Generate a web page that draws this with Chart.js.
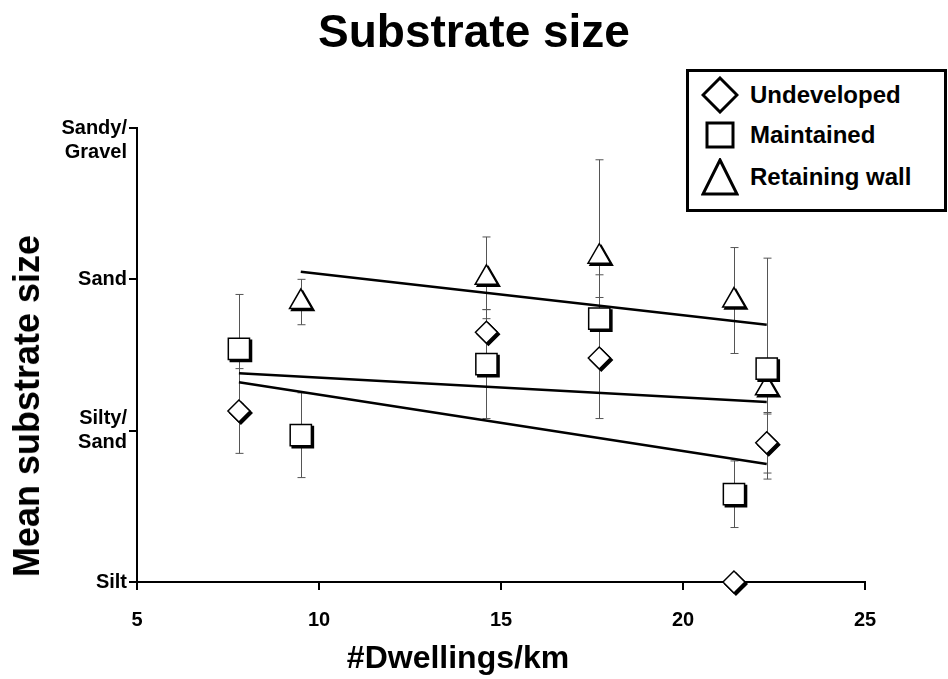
<!DOCTYPE html>
<html>
<head>
<meta charset="utf-8">
<script src="https://cdn.jsdelivr.net/npm/chart.js@4"></script>
<style>
    body { margin: 0; background: #fff; }
    #wrap { position: relative; width: 948px; height: 679px; font-family: Arial, 'Liberation Sans', sans-serif; color: #000; }
    #chart { position: absolute; left: 0; top: 0; }
    #title { position: absolute; left: 474px; top: 31px; transform: translate(-50%, -50%); font-weight: bold; font-size: 46px; white-space: nowrap; }
    #ytitle { position: absolute; left: 27px; top: 406px; transform: translate(-50%, -50%) rotate(-90deg); font-weight: bold; font-size: 36px; white-space: nowrap; }
    #xtitle { position: absolute; left: 458px; top: 657px; transform: translate(-50%, -50%); font-weight: bold; font-size: 32px; white-space: nowrap; }
    #legend { position: absolute; left: 686px; top: 69px; width: 261px; height: 143px; border: 3px solid #000; background: #fff; box-sizing: border-box; }
    .item { position: absolute; left: 0; height: 40px; display: flex; align-items: center; font-weight: bold; font-size: 24px; }
    .item svg { margin-left: 12px; margin-right: 11px; }
</style>
</head>
<body>
<div id="wrap">
    <canvas id="chart" width="948" height="679"></canvas>
    <div id="title">Substrate size</div>
    <div id="ytitle">Mean substrate size</div>
    <div id="xtitle">#Dwellings/km</div>
    <div id="legend"></div>
</div>
<script>
// x = dwellings per km, y = substrate class (0 = Silt ... 3 = Sandy/Gravel)
var yTickLabels = ['Silt', ['Silty/', 'Sand'], 'Sand', ['', 'Sandy/', 'Gravel']];

var undevX = [7.8, 14.6, 17.7, 21.4, 22.3];
var undevY = [1.13, 1.65, 1.48, 0, 0.92];
var undevErr = [0.28, 0.15, 0.40, 0, 0.20];

var maintX = [7.8, 9.5, 14.6, 17.7, 21.4, 22.3];
var maintY = [1.54, 0.97, 1.44, 1.74, 0.58, 1.41];
var maintErr = [0.36, 0.28, 0.36, 0.29, 0.22, 0.73];

var wallX = [9.5, 14.6, 17.7, 21.4, 22.3];
var wallY = [1.85, 2.01, 2.15, 1.86, 1.28];
var wallErr = [0.15, 0.27, 0.64, 0.35, 0.17];

// regression lines (end points)
var undevFitX = [7.8, 22.3];
var undevFitY = [1.32, 0.78];
var maintFitX = [7.8, 22.3];
var maintFitY = [1.38, 1.19];
var wallFitX = [9.5, 22.3];
var wallFitY = [2.05, 1.70];

var seriesNames = ['Undeveloped', 'Maintained', 'Retaining wall'];

function toPoints(xs, ys) {
    return xs.map(function (x, i) { return { x: x, y: ys[i] }; });
}

function markerSet(label, xs, ys, errs, style, radius) {
    return {
        label: label,
        data: toPoints(xs, ys),
        errors: errs,
        shadow: true,
        pointStyle: style,
        pointRadius: radius,
        pointBackgroundColor: '#fff',
        pointBorderColor: '#000',
        pointBorderWidth: 1.5,
        showLine: false,
        clip: false
    };
}

function fitSet(xs, ys) {
    return {
        data: toPoints(xs, ys),
        showLine: true,
        borderColor: '#000',
        borderWidth: 2.5,
        pointRadius: 0,
        clip: false
    };
}

// draws vertical error bars behind the markers
var errorBarPlugin = {
    id: 'errorBars',
    beforeDatasetsDraw: function (chart) {
        var ctx = chart.ctx;
        var xs = chart.scales.x, ys = chart.scales.y;
        ctx.save();
        ctx.strokeStyle = '#555';
        ctx.lineWidth = 1;
        chart.data.datasets.forEach(function (ds) {
            if (!ds.errors) return;
            ds.data.forEach(function (p, i) {
                var e = ds.errors[i];
                if (!e) return;
                var px = Math.round(xs.getPixelForValue(p.x)) + 0.5;
                var top = ys.getPixelForValue(p.y + e);
                var bot = ys.getPixelForValue(p.y - e);
                ctx.beginPath();
                ctx.moveTo(px, top);
                ctx.lineTo(px, bot);
                ctx.moveTo(px - 4, top);
                ctx.lineTo(px + 4, top);
                ctx.moveTo(px - 4, bot);
                ctx.lineTo(px + 4, bot);
                ctx.stroke();
            });
        });
        ctx.restore();
    }
};

// dark offset copy of each marker, drawn just before the marker itself
var shadowPlugin = {
    id: 'markerShadow',
    beforeDatasetDraw: function (chart, args) {
        var ds = chart.data.datasets[args.index];
        if (!ds.shadow || !Chart.helpers || !Chart.helpers.drawPoint) return;
        var ctx = chart.ctx;
        ctx.save();
        ctx.fillStyle = '#000';
        ctx.strokeStyle = '#000';
        ctx.lineWidth = 1.5;
        args.meta.data.forEach(function (el) {
            Chart.helpers.drawPoint(ctx, {
                pointStyle: ds.pointStyle,
                radius: ds.pointRadius,
                rotation: 0,
                borderWidth: 1.5
            }, el.x + 2, el.y + 2);
        });
        ctx.restore();
    }
};

var tickFont = { family: "Arial, 'Liberation Sans', sans-serif", size: 20, weight: 'bold' };

new Chart(document.getElementById('chart').getContext('2d'), {
    type: 'scatter',
    data: {
        datasets: [
            markerSet(seriesNames[0], undevX, undevY, undevErr, 'rectRot', 11),
            markerSet(seriesNames[1], maintX, maintY, maintErr, 'rect', 15),
            markerSet(seriesNames[2], wallX, wallY, wallErr, 'triangle', 13),
            fitSet(undevFitX, undevFitY),
            fitSet(maintFitX, maintFitY),
            fitSet(wallFitX, wallFitY)
        ]
    },
    options: {
        responsive: false,
        animation: false,
        layout: { padding: { left: 0, right: 83, top: 128, bottom: 0 } },
        plugins: {
            legend: { display: false },
            tooltip: { enabled: false },
            title: { display: false }
        },
        scales: {
            x: {
                type: 'linear',
                min: 5,
                max: 25,
                ticks: { stepSize: 5, color: '#000', font: tickFont, padding: 18 },
                grid: { drawOnChartArea: false, drawTicks: true, tickLength: 8, color: '#000', lineWidth: 2 },
                border: { display: true, color: '#000', width: 2 },
                afterFit: function (scale) { scale.height = 97; }
            },
            y: {
                type: 'linear',
                min: 0,
                max: 3,
                ticks: {
                    stepSize: 1,
                    color: '#000',
                    font: tickFont,
                    padding: 2,
                    callback: function (v) { return yTickLabels[v]; }
                },
                grid: { drawOnChartArea: false, drawTicks: true, tickLength: 8, color: '#000', lineWidth: 2 },
                border: { display: true, color: '#000', width: 2 },
                afterFit: function (scale) { scale.width = 137; }
            }
        }
    },
    plugins: [errorBarPlugin, shadowPlugin]
});

// legend box drawn in html
var legendIcons = [
    '<svg width="38" height="38"><polygon points="19,2 36,19 19,36 2,19" fill="#fff" stroke="#000" stroke-width="3"/></svg>',
    '<svg width="38" height="30"><rect x="6" y="3" width="26" height="24" fill="#fff" stroke="#000" stroke-width="3"/></svg>',
    '<svg width="38" height="38"><polygon points="19,2 36,36 2,36" fill="#fff" stroke="#000" stroke-width="3"/></svg>'
];
var legendTops = [3, 43, 85];
var legendHtml = '';
seriesNames.forEach(function (name, i) {
    legendHtml += '<div class="item" style="top:' + legendTops[i] + 'px">' + legendIcons[i] + '<span>' + name + '</span></div>';
});
document.getElementById('legend').innerHTML = legendHtml;
</script>
</body>
</html>
